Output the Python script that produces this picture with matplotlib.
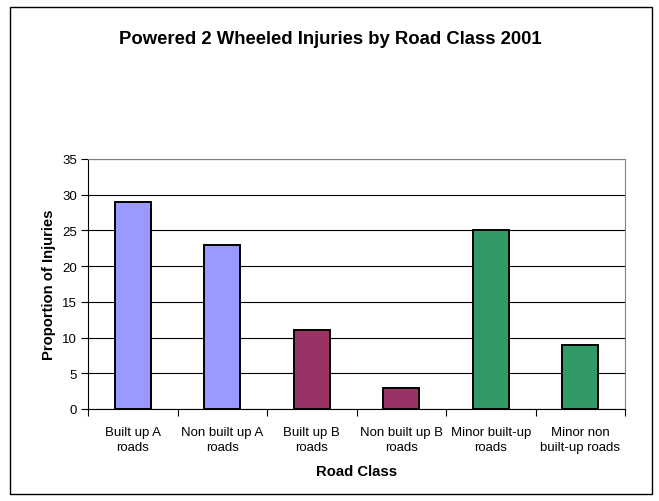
import numpy as np
import matplotlib
matplotlib.use("Agg")
import matplotlib.pyplot as plt
from matplotlib.patches import Rectangle

# Data
categories = ["Built up A\nroads", "Non built up A\nroads", "Built up B\nroads",
              "Non built up B\nroads", "Minor built-up\nroads", "Minor non\nbuilt-up roads"]
values = [29, 23, 11, 3, 25, 9]
colors = ["#9999FF", "#9999FF", "#993366", "#993366", "#339966", "#339966"]
yticks = [0, 5, 10, 15, 20, 25, 30, 35]

plt.rcParams['font.family'] = ['Liberation Sans', 'DejaVu Sans']

W, H = 659, 502
fig = plt.figure(figsize=(W / 100, H / 100), dpi=100)

# outer chart border
fig.patches.append(Rectangle((10 / W, 1 - 495 / H), 642 / W, 487 / H,
                             transform=fig.transFigure, fill=False,
                             edgecolor="black", linewidth=1.0))

ax = fig.add_axes([88 / W, 1 - 410 / H, (625 - 88) / W, (410 - 160) / H])

x = np.arange(len(categories))
ax.bar(x, values, width=0.4, color=colors, edgecolor="black", linewidth=1.4, zorder=3)

ax.set_xlim(-0.5, len(categories) - 0.5)
ax.set_ylim(0, 35)
ax.set_yticks(yticks)
ax.yaxis.grid(True, color="black", linewidth=0.8, zorder=0)
ax.tick_params(axis="y", direction="out", length=5, width=0.8, labelsize=9.5, pad=3)

ax.set_xticks(x)
ax.set_xticklabels(categories, fontsize=9.5, linespacing=1.35)
ax.tick_params(axis="x", which="major", length=0, pad=12)
ax.set_xticks(np.arange(len(categories) + 1) - 0.5, minor=True)
ax.tick_params(axis="x", which="minor", direction="out", length=5, width=0.8)

for s in ["top", "right"]:
    ax.spines[s].set_color("#808080")
    ax.spines[s].set_linewidth(0.8)
for s in ["left", "bottom"]:
    ax.spines[s].set_color("black")
    ax.spines[s].set_linewidth(0.8)

ax.set_xlabel("Road Class", fontsize=10.7, fontweight="bold", labelpad=8)
ax.set_ylabel("Proportion of Injuries", fontsize=10.7, fontweight="bold", labelpad=4)

fig.text(330 / W, 1 - 40 / H, "Powered 2 Wheeled Injuries by Road Class 2001",
         ha="center", va="center", fontsize=13.3, fontweight="bold")

fig.savefig("out.png", dpi=100)
